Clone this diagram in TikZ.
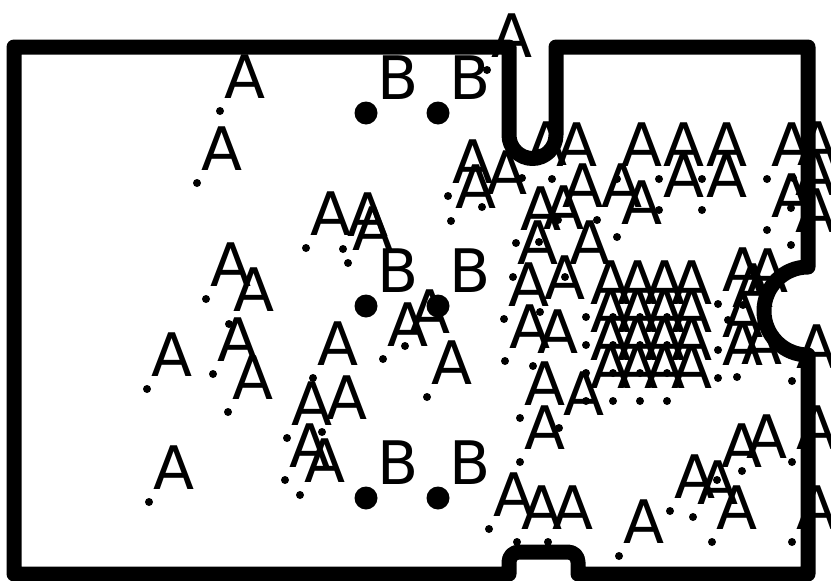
\documentclass[tikz,border=0pt]{standalone}
\usepackage{fontspec}
\setmainfont{DejaVu Sans}
\usetikzlibrary{positioning}

\tikzset{
  board/.style={line width=15pt, line join=round},
  dotA/.style={circle, fill=black, inner sep=0pt, minimum size=8pt},
  dotB/.style={circle, fill=black, inner sep=0pt, minimum size=23pt},
  lbl/.style={anchor=base west, inner sep=0pt, font=\fontsize{60pt}{60pt}\selectfont}
}

\begin{document}
\begin{tikzpicture}[x=1pt, y=-1pt]
    \useasboundingbox (0,0) rectangle (831,581);

    % Board outline
    \draw[board] (14,47) -- (509,47) -- (509,135)
        arc[start angle=180, end angle=360, radius=23.5pt]
        -- (556,47) -- (808,47) -- (808,267)
        arc[start angle=90, end angle=270, radius=44pt]
        -- (808,574) -- (578,574)
        [rounded corners=10pt] -- (578,552) -- (509,552) [sharp corners] -- (509,574)
        -- (14,574) -- cycle;

    % Big points B
    \foreach \x/\y [count=\i] in {366/113, 438/113, 366/306, 438/306, 366/498, 438/498}{
        \node[dotB] (b\i) at (\x,\y) {};
        \node[lbl] (lb\i) at (\x+11,\y-14) {B};
    }

    % Small points A
    \foreach \x/\y [count=\i] in {
        220/111, 197/183, 306/248, 343/249, 348/263, 206/299, 229/324, 213/374,
        147/389, 228/412, 149/502,
        313/378, 383/359, 405/346, 427/397, 287/438, 322/432, 285/480, 300/495,
        487/70,
        448/196, 482/207, 451/221, 522/178, 552/179, 617/179, 659/179, 702/179,
        767/179, 793/178, 558/220, 597/220, 617/237, 659/210, 702/210, 767/230,
        791/208, 791/245, 516/243, 539/242, 513/277, 565/277, 504/319, 540/312,
        505/361, 533/366, 520/418, 559/428, 520/462, 489/529, 517/542, 548/542,
        619/556, 670/511, 693/517, 712/542, 717/480, 742/471, 792/462, 792/542,
        792/381, 718/304, 743/305, 728/320, 718/350, 718/378, 737/377}{
        \node[dotA] (a\i) at (\x,\y) {};
        \node[lbl] (la\i) at (\x+4,\y-13) {A};
    }

    % Grid of A points
    \foreach \x [count=\i] in {586,613,640,667}{
        \foreach \y [count=\j] in {317,345,373,401}{
            \node[dotA] (g\i\j) at (\x,\y) {};
            \node[lbl] (lg\i\j) at (\x+4,\y-13) {A};
        }
    }
\end{tikzpicture}
\end{document}
